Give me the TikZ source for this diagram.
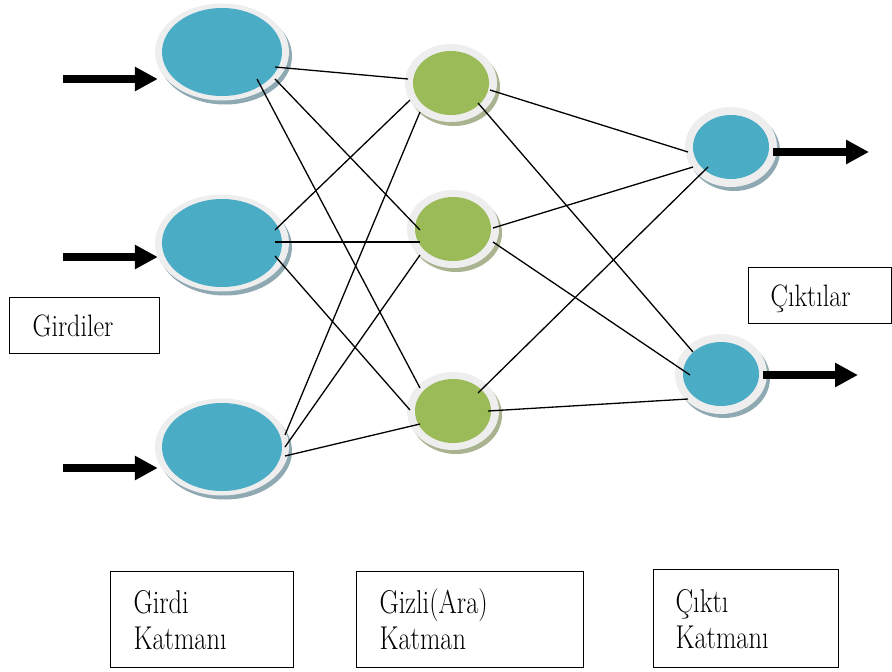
\documentclass[tikz,border=0pt]{standalone}
\usepackage{fontspec}
\setmainfont{Latin Modern Roman}
\usetikzlibrary{shapes.geometric,shadows,arrows.meta}

\definecolor{ringgray}{HTML}{EEEEEE}
\definecolor{nblue}{HTML}{4BACC6}
\definecolor{ngreen}{HTML}{9BBB59}
\definecolor{bshadow}{HTML}{8FA9B3}
\definecolor{gshadow}{HTML}{A9B38F}

\begin{document}
\begin{tikzpicture}[x=1pt,y=-1pt,
  % neuron: ring width, ring height, core x radius, core y radius, core colour, shadow colour
  neuron/.style n args={6}{ellipse, inner sep=0pt, minimum width=#1, minimum height=#2,
    fill=ringgray,
    general shadow={fill=#6, shadow xshift=3pt, shadow yshift=-4pt},
    path picture={\fill[#5] (path picture bounding box.center) ellipse [x radius=#3, y radius=#4];}},
  innode/.style={neuron={134pt}{97pt}{60pt}{44pt}{nblue}{bshadow}},
  hidnode/.style={neuron={92pt}{78pt}{38pt}{32pt}{ngreen}{gshadow}},
  outnode/.style={neuron={92pt}{80pt}{38pt}{32pt}{nblue}{bshadow}},
  link/.style={line width=1.3pt},
  bigarrow/.style={line width=8pt, -{Triangle[length=23pt,width=23pt]}},
  labelbox/.style={draw, line width=1.2pt, align=left, inner ysep=0pt,
    text height=21pt, text depth=0pt, anchor=north west,
    font={\fontsize{31}{35}\selectfont\addfontfeature{FakeStretch=0.84}}},
  layerbox/.style={draw, line width=1.2pt, align=left, inner ysep=0pt,
    minimum height=96pt, anchor=north west,
    font={\fontsize{33}{36}\selectfont\addfontfeature{FakeStretch=0.8}}}
]
\useasboundingbox (0,0) rectangle (892,672);

% layers of neurons
\node[innode] (i1) at (222,52) {};
\node[innode] (i2) at (222,243) {};
\node[innode] (i3) at (222,447) {};
\node[hidnode] (h1) at (451,83) {};
\node[hidnode] (h2) at (453,229) {};
\node[hidnode] (h3) at (453,411) {};
\node[outnode] (o1) at (731,147) {};
\node[outnode] (o2) at (721,374) {};

% input layer -> hidden layer
\draw[link] ([shift={(53,15)}]i1.center) -- ([shift={(-43,-4)}]h1.center);
\draw[link] ([shift={(53,27)}]i1.center) -- ([shift={(-33,1)}]h2.center);
\draw[link] ([shift={(35,27)}]i1.center) -- ([shift={(-33,-23)}]h3.center);
\draw[link] ([shift={(53,-13)}]i2.center) -- ([shift={(-41,17)}]h1.center);
\draw[link] ([shift={(53,-1)}]i2.center) -- ([shift={(-33,13)}]h2.center);
\draw[link] ([shift={(53,13)}]i2.center) -- ([shift={(-43,-1)}]h3.center);
\draw[link] ([shift={(63,-12)}]i3.center) -- ([shift={(-31,29)}]h1.center);
\draw[link] ([shift={(63,0)}]i3.center) -- ([shift={(-33,26)}]h2.center);
\draw[link] ([shift={(63,9)}]i3.center) -- ([shift={(-33,13)}]h3.center);

% hidden layer -> output layer
\draw[link] ([shift={(39,7)}]h1.center) -- ([shift={(-43,5)}]o1.center);
\draw[link] ([shift={(27,20)}]h1.center) -- ([shift={(-28,-22)}]o2.center);
\draw[link] ([shift={(40,-1)}]h2.center) -- ([shift={(-38,20)}]o1.center);
\draw[link] ([shift={(40,13)}]h2.center) -- ([shift={(-31,1)}]o2.center);
\draw[link] ([shift={(25,-18)}]h3.center) -- ([shift={(-23,20)}]o1.center);
\draw[link] ([shift={(35,0)}]h3.center) -- ([shift={(-33,25)}]o2.center);

% incoming and outgoing signals
\coordinate (a1) at (63,79);
\coordinate (a2) at (63,257);
\coordinate (a3) at (63,468);
\draw[bigarrow] (a1) -- ([xshift=3pt]a1 -| i1.west);
\draw[bigarrow] (a2) -- ([xshift=3pt]a2 -| i2.west);
\draw[bigarrow] (a3) -- ([xshift=3pt]a3 -| i3.west);
\coordinate (q1) at (869,152);
\coordinate (q2) at (858,375);
\draw[bigarrow] ([xshift=-4pt]o1.east |- q1) -- (q1);
\draw[bigarrow] ([xshift=-4pt]o2.east |- q2) -- (q2);

% captions
\node[labelbox, minimum width=150pt, minimum height=56pt, inner xsep=23pt, text width=104pt]
  (inlbl) at (9,297) {Girdiler};
\node[labelbox, minimum width=143pt, minimum height=56pt, inner xsep=22pt, text width=99pt]
  (outlbl) at (748,267) {Çıktılar};

\node[layerbox, inner xsep=23pt, text width=137pt] (lay1) at (110,571) {Girdi\\Katmanı};
\node[layerbox, inner xsep=23pt, text width=181pt] (lay2) at (356,571) {Gizli(Ara)\\Katman};
\node[layerbox, inner xsep=22pt, text width=141pt, minimum height=98pt] (lay3) at (653,569) {Çıktı\\Katmanı};
\end{tikzpicture}
\end{document}
